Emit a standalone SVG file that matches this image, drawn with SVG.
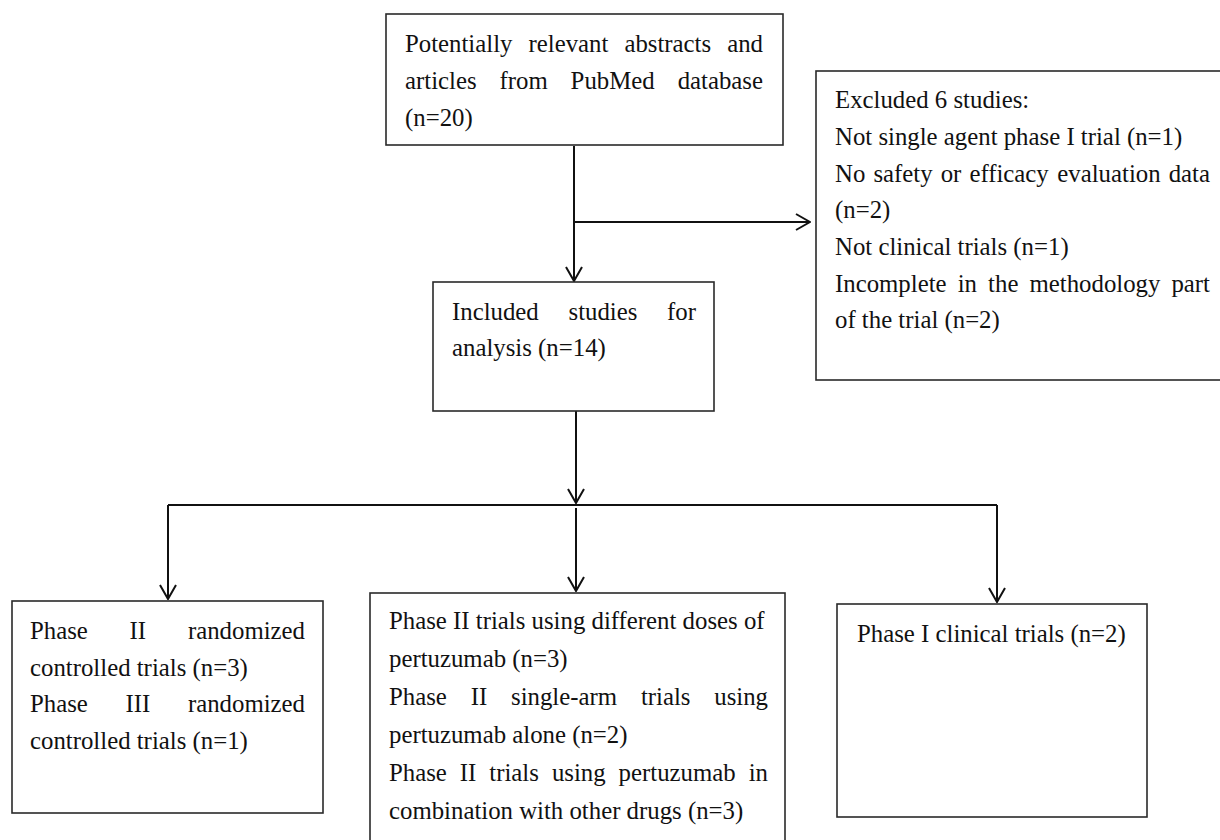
<svg xmlns="http://www.w3.org/2000/svg" width="1220" height="840" viewBox="0 0 1220 840">
<style>
.box{fill:#fff;stroke:#2a2a2a;stroke-width:1.6}
.t{font-family:"Liberation Serif","Times New Roman",serif;font-size:24.8px;fill:#111}
.e{text-anchor:end}
.c{fill:none;stroke:#111;stroke-width:2}
</style>
<defs>
<marker id="ah" viewBox="0 0 16 18" refX="15" refY="9" markerWidth="16" markerHeight="18" orient="auto" markerUnits="userSpaceOnUse">
<path d="M1,1 L15,9 L1,17" fill="none" stroke="#111" stroke-width="2"/>
</marker>
</defs>
<rect width="1220" height="840" fill="#fff"/>
<g id="connectors">
<path class="c" d="M574,146 V281" marker-end="url(#ah)"/>
<path class="c" d="M574,222 H810" marker-end="url(#ah)"/>
<path class="c" d="M576,411 V503" marker-end="url(#ah)"/>
<path class="c" d="M168,505 H997"/>
<path class="c" d="M168,505 V599" marker-end="url(#ah)"/>
<path class="c" d="M576,508 V591" marker-end="url(#ah)"/>
<path class="c" d="M997,505 V602" marker-end="url(#ah)"/>
</g>
<g id="node-source">
<rect class="box" x="386" y="14" width="397" height="131"/>
<text class="t" y="52"><tspan x="405">Potentially</tspan><tspan x="528.5">relevant</tspan><tspan x="624.4">abstracts</tspan></text>
<text class="t e" x="763" y="52">and</text>
<text class="t" y="89"><tspan x="405">articles</tspan><tspan x="499.5">from</tspan><tspan x="570.6">PubMed</tspan></text>
<text class="t e" x="763" y="89">database</text>
<text class="t" x="405" y="126">(n=20)</text>
</g>
<g id="node-excluded">
<rect class="box" x="816" y="71" width="420" height="309"/>
<text class="t" x="835" y="108">Excluded 6 studies:</text>
<text class="t" x="835" y="145">Not single agent phase I trial (n=1)</text>
<text class="t" y="182"><tspan x="835">No</tspan><tspan x="873.4">safety</tspan><tspan x="940.7">or</tspan><tspan x="969.4">efficacy</tspan><tspan x="1057.3">evaluation</tspan></text>
<text class="t e" x="1210" y="182">data</text>
<text class="t" x="835" y="218">(n=2)</text>
<text class="t" x="835" y="255">Not clinical trials (n=1)</text>
<text class="t" y="292"><tspan x="835">Incomplete</tspan><tspan x="957.7">in</tspan><tspan x="988.1">the</tspan><tspan x="1029.5">methodology</tspan></text>
<text class="t e" x="1210" y="292">part</text>
<text class="t" x="835" y="328">of the trial (n=2)</text>
</g>
<g id="node-included">
<rect class="box" x="433" y="282" width="281" height="129"/>
<text class="t" y="320"><tspan x="452">Included</tspan><tspan x="568.5">studies</tspan></text>
<text class="t e" x="696" y="320">for</text>
<text class="t" x="452" y="356">analysis (n=14)</text>
</g>
<g id="node-rct">
<rect class="box" x="12" y="601" width="311" height="212"/>
<text class="t" y="639"><tspan x="30">Phase</tspan><tspan x="129.6">II</tspan></text>
<text class="t e" x="305" y="639">randomized</text>
<text class="t" x="30" y="676">controlled trials (n=3)</text>
<text class="t" y="712"><tspan x="30">Phase</tspan><tspan x="125.5">III</tspan></text>
<text class="t e" x="305" y="712">randomized</text>
<text class="t" x="30" y="749">controlled trials (n=1)</text>
</g>
<g id="node-phase2">
<rect class="box" x="370" y="593" width="415" height="252"/>
<text class="t" x="389" y="629">Phase II trials using different doses of</text>
<text class="t" x="389" y="667">pertuzumab (n=3)</text>
<text class="t" y="705"><tspan x="389">Phase</tspan><tspan x="470.7">II</tspan><tspan x="511">single-arm</tspan><tspan x="640.9">trials</tspan></text>
<text class="t e" x="768" y="705">using</text>
<text class="t" x="389" y="743">pertuzumab alone (n=2)</text>
<text class="t" y="781"><tspan x="389">Phase</tspan><tspan x="459.8">II</tspan><tspan x="489.3">trials</tspan><tspan x="551.9">using</tspan><tspan x="618.6">pertuzumab</tspan></text>
<text class="t e" x="768" y="781">in</text>
<text class="t" x="389" y="819">combination with other drugs (n=3)</text>
</g>
<g id="node-phase1">
<rect class="box" x="837" y="604" width="310" height="213"/>
<text class="t" x="857" y="642">Phase I clinical trials (n=2)</text>
</g>
</svg>
